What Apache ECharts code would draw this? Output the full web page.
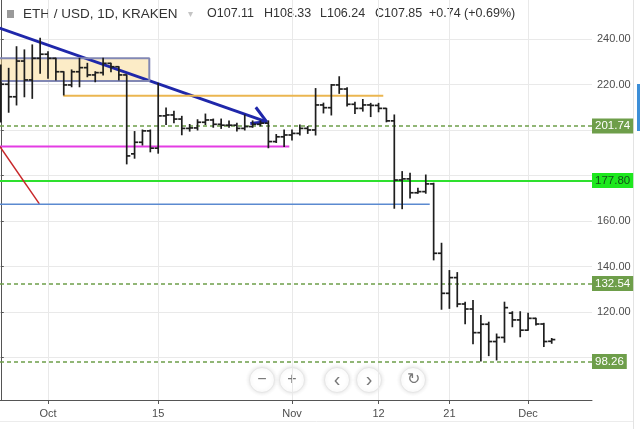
<!DOCTYPE html>
<html><head><meta charset="utf-8">
<script src="https://cdn.jsdelivr.net/npm/echarts@6/dist/echarts.min.js"></script>
<style>html,body{margin:0;padding:0;background:#fff}#c{width:640px;height:429px}</style>
</head><body><div id="c"></div>
<script>
// ---- data (ETH/USD daily, Kraken) ----
const dates = ['2018-09-25','2018-09-26','2018-09-27','2018-09-28','2018-09-29','2018-09-30',
'2018-10-01','2018-10-02','2018-10-03','2018-10-04','2018-10-05','2018-10-06','2018-10-07','2018-10-08','2018-10-09','2018-10-10',
'2018-10-11','2018-10-12','2018-10-13','2018-10-14','2018-10-15','2018-10-16','2018-10-17','2018-10-18','2018-10-19','2018-10-20',
'2018-10-21','2018-10-22','2018-10-23','2018-10-24','2018-10-25','2018-10-26','2018-10-27','2018-10-28','2018-10-29','2018-10-30','2018-10-31',
'2018-11-01','2018-11-02','2018-11-03','2018-11-04','2018-11-05','2018-11-06','2018-11-07','2018-11-08','2018-11-09','2018-11-10',
'2018-11-11','2018-11-12','2018-11-13','2018-11-14','2018-11-15','2018-11-16','2018-11-17','2018-11-18','2018-11-19','2018-11-20',
'2018-11-21','2018-11-22','2018-11-23','2018-11-24','2018-11-25','2018-11-26','2018-11-27','2018-11-28','2018-11-29','2018-11-30',
'2018-12-01','2018-12-02','2018-12-03','2018-12-04'];
const opens = [226.0,220.1,214.6,230.3,222.0,231.5,
233.3,231.5,225.6,219.8,225.6,227.4,224.2,225.2,229.3,227.8,
224.2,189.5,194.6,199.6,192.0,206.2,206.6,204.8,200.7,200.9,
203.4,204.4,202.5,202.1,202.1,200.7,201.5,202.5,203.0,194.9,197.0,
197.8,198.5,200.7,200.0,211.0,209.8,219.8,218.0,211.3,209.5,
211.0,210.8,209.5,204.0,178.0,178.5,172.4,172.9,176.3,145.8,
128.2,135.1,123.5,121.3,110.9,114.6,107.0,108.8,119.5,116.5,
112.0,117.2,114.7,107.11];
const highs = [228.6,227.1,236.6,235.2,237.4,240.3,
234.4,231.5,225.6,226.4,231.5,229.3,225.6,231.5,229.3,227.8,
224.2,199.3,200.0,200.0,220.5,209.7,208.2,206.0,202.4,204.5,
207.0,204.8,204.8,204.0,203.0,206.6,204.0,204.0,204.0,198.0,200.0,
200.0,202.2,201.5,218.2,211.8,220.0,223.4,218.6,212.2,213.4,
211.7,211.7,209.5,206.6,181.7,181.0,174.4,180.2,176.6,150.2,
138.2,137.3,124.3,125.0,118.4,115.5,110.3,124.3,120.1,120.1,
119.4,117.2,115.0,108.33];
const lows = [203.5,207.8,211.0,214.6,213.9,224.9,
222.7,222.0,215.4,219.0,219.0,223.4,221.2,224.2,225.6,222.0,
185.1,187.6,193.4,190.4,189.8,202.4,203.2,197.9,199.5,200.0,
202.4,201.2,200.7,201.2,199.5,200.0,201.2,201.8,192.2,194.5,192.7,
195.6,197.8,198.5,197.8,207.5,206.6,216.1,210.5,207.2,208.3,
205.9,208.0,203.6,165.6,165.4,170.1,172.2,172.2,142.9,121.2,
121.6,122.3,114.8,106.0,98.4,100.8,98.9,106.7,113.5,109.1,
112.0,114.3,104.8,106.24];
const closes = [220.1,214.6,230.3,222.0,231.5,233.3,
231.5,225.6,219.8,225.6,227.4,224.2,225.2,229.3,227.8,224.2,
188.6,194.6,199.6,192.0,206.2,206.6,204.8,200.7,200.9,203.4,
204.4,202.5,202.1,202.1,200.7,201.5,202.5,203.0,194.9,197.0,197.8,
198.5,200.7,200.0,211.0,209.8,219.8,218.0,211.3,209.5,211.0,
210.8,209.5,204.0,178.0,178.5,172.4,172.9,176.3,145.8,128.2,
135.1,123.5,121.3,110.9,114.6,107.0,108.8,121.9,116.5,112.0,
117.2,114.7,107.0,107.85];

const xTickDates = ['2018-10-01','2018-10-15','2018-11-01','2018-11-12','2018-11-21','2018-12-01'];
const xTickLabels = ['Oct','15','Nov','12','21','Dec'];
const yGridTicks = [100,120,140,160,180,200,220,240];
const yLabelTicks = [120,140,160,220,240];
const dashedLevels = [201.74, 132.54, 98.26];
const greenLevel = 177.80;
const lastPrice = 107.85;

// drawings: [day offset from first date, price]
const blueTrend = [[-1, 245.8],[33.79, 203.6]];
const blueArrowHead = [[32.4, 210.0],[33.79, 203.6],[31.7, 202.8]];
const boxRange = [[-0.1, 231.5],[18.87, 221.5]];
const boxEdges = [[-3, 231.5],[18.87, 231.5],[18.87, 221.5],[-3, 221.5]];
const orangeLine = [[7.94, 215.0],[48.6, 215.0]];
const magentaLine = [[-1, 192.7],[36.66, 192.7]];
const redLine = [[-0.1, 192.7],[4.9, 167.5]];
const steelLine = [[-1, 167.4],[54.5, 167.4]];

const headerTitle = 'ETH / USD, 1D, KRAKEN';
const headerValues = ['O107.11','H108.33','L106.24','C107.85','+0.74 (+0.69%)'];

// ---- build ----
const DAY = 86400000;
const t0 = Date.parse(dates[0]);
const dayIdx = d => Math.round((Date.parse(d) - t0) / DAY);
const ohlc = dates.map((d, i) => [dayIdx(d), opens[i], highs[i], lows[i], closes[i]]);
const xTickVals = xTickDates.map(dayIdx);
const FONT = '"Liberation Sans", Arial, sans-serif';

function lineSeries(data, color, width, z, extra) {
  return Object.assign({
    type: 'line', data: data, symbol: 'none', silent: true, z: z, clip: true,
    lineStyle: { color: color, width: width }, animation: false
  }, extra || {});
}

const levelMarks = dashedLevels.map(v => ({
  yAxis: v,
  lineStyle: { color: '#6e9e4a', width: 1.5, type: [4, 3] },
  label: { backgroundColor: '#6e9e4a', color: '#fff' }
}));
levelMarks.push({
  yAxis: greenLevel,
  lineStyle: { color: '#2ee02e', width: 2, type: 'solid' },
  label: { backgroundColor: '#1ee81e', color: '#14501a' }
});
levelMarks.push({
  yAxis: lastPrice,
  lineStyle: { color: '#000', width: 0, opacity: 0 },
  label: { backgroundColor: '#000', color: '#fff' }
});

const chart = echarts.init(document.getElementById('c'), null, { renderer: 'canvas' });
chart.setOption({
  animation: false,
  backgroundColor: '#fff',
  grid: { left: 0, right: 48, top: 0, bottom: 29, containLabel: false },
  xAxis: {
    type: 'value', min: -0.1, max: 75.12,
    axisLine: { show: true, lineStyle: { color: '#555', width: 1 } },
    axisTick: { show: true, length: 4, lineStyle: { color: '#555' }, customValues: xTickVals },
    axisLabel: {
      customValues: xTickVals, color: '#4d4d4d', fontSize: 11, fontFamily: FONT, margin: 8,
      formatter: v => { const k = xTickVals.indexOf(Math.round(v)); return k >= 0 ? xTickLabels[k] : ''; }
    },
    splitLine: { show: true, lineStyle: { color: '#e9e9e9', width: 1 } }
  },
  yAxis: {
    type: 'value', position: 'right', min: 81.3, max: 257.14, scale: true,
    axisLine: { show: true, lineStyle: { color: '#555', width: 1 } },
    axisTick: { show: true, length: 3, lineStyle: { color: '#555' }, customValues: yGridTicks },
    axisLabel: {
      customValues: yLabelTicks, color: '#4d4d4d', fontSize: 11, fontFamily: FONT, margin: 5,
      formatter: v => v.toFixed(2)
    },
    splitLine: { show: true, lineStyle: { color: '#e9e9e9', width: 1 } }
  },
  series: [
    lineSeries(blueTrend, '#1f27aa', 3, 3),
    lineSeries(blueArrowHead, '#1f27aa', 3, 3),
    lineSeries(boxEdges, '#8288b4', 2, 4, {
      markArea: {
        silent: true,
        itemStyle: { color: 'rgba(248,212,130,0.45)', borderWidth: 0 },
        data: [[{ coord: boxRange[0] }, { coord: boxRange[1] }]]
      }
    }),
    lineSeries(orangeLine, '#ebb650', 2, 5),
    lineSeries(magentaLine, '#e43ce4', 2, 5),
    lineSeries(redLine, '#c8282a', 1.5, 5),
    lineSeries(steelLine, '#5b8ad0', 1.5, 5),
    {
      type: 'custom', z: 10, clip: true, silent: true,
      data: ohlc,
      encode: { x: 0, y: [1, 2, 3, 4] },
      renderItem: function (params, api) {
        const x = api.value(0);
        const o = api.coord([x, api.value(1)]);
        const h = api.coord([x, api.value(2)]);
        const l = api.coord([x, api.value(3)]);
        const c = api.coord([x, api.value(4)]);
        const st = { stroke: '#1e1e1e', lineWidth: 1.7 };
        return {
          type: 'group', children: [
            { type: 'line', shape: { x1: h[0], y1: h[1] - 0.5, x2: l[0], y2: l[1] + 0.5 }, style: st },
            { type: 'line', shape: { x1: o[0] - 3.6, y1: o[1], x2: o[0], y2: o[1] }, style: st },
            { type: 'line', shape: { x1: c[0], y1: c[1], x2: c[0] + 3.6, y2: c[1] }, style: st }
          ]
        };
      },
      markLine: {
        silent: true, symbol: ['none', 'none'], animation: false,
        label: {
          show: true, position: 'end', distance: 0, fontSize: 11.5, fontFamily: FONT,
          padding: [2, 3, 1, 3], formatter: p => Number(p.value).toFixed(2)
        },
        data: levelMarks
      }
    }
  ],
  graphic: [
    { type: 'rect', shape: { x: 7, y: 10, width: 7, height: 8 }, style: { fill: '#9a9a9a' } },
    { type: 'text', x: 23, y: 14, style: { text: headerTitle, fill: '#333', font: '13.5px ' + FONT, textVerticalAlign: 'middle' } },
    { type: 'text', x: 188, y: 14, style: { text: '▾', fill: '#c4c4c4', font: '10px ' + FONT, textVerticalAlign: 'middle' } },
    { type: 'text', x: 207, y: 14, style: { text: headerValues[0], fill: '#333', font: '12.5px ' + FONT, textVerticalAlign: 'middle' } },
    { type: 'text', x: 264, y: 14, style: { text: headerValues[1], fill: '#333', font: '12.5px ' + FONT, textVerticalAlign: 'middle' } },
    { type: 'text', x: 320, y: 14, style: { text: headerValues[2], fill: '#333', font: '12.5px ' + FONT, textVerticalAlign: 'middle' } },
    { type: 'text', x: 375, y: 14, style: { text: headerValues[3], fill: '#333', font: '12.5px ' + FONT, textVerticalAlign: 'middle' } },
    { type: 'text', x: 429, y: 14, style: { text: headerValues[4], fill: '#333', font: '12.5px ' + FONT, textVerticalAlign: 'middle' } },
    // navigation buttons
    ...[[262, '−'], [292, '+'], [337, '‹'], [369, '›'], [413, '↻']].map(b => ({
      type: 'group', children: [
        { type: 'circle', shape: { cx: b[0], cy: 380, r: 12.5 }, style: { fill: '#fff', stroke: '#e6e6e6', lineWidth: 1, shadowBlur: 4, shadowColor: 'rgba(0,0,0,0.12)' } },
        { type: 'text', x: b[0], y: 380, style: { text: b[1], fill: '#777', font: (b[1] === '‹' || b[1] === '›' ? '20px ' : '16px ') + FONT, textAlign: 'center', textVerticalAlign: 'middle' } }
      ]
    })),
    // frame bits
    { type: 'line', shape: { x1: 0, y1: 421.5, x2: 633, y2: 421.5 }, style: { stroke: '#ececec', lineWidth: 1 } },
    { type: 'line', shape: { x1: 633.5, y1: 0, x2: 633.5, y2: 429 }, style: { stroke: '#e3e3e3', lineWidth: 1 } },
    { type: 'rect', shape: { x: 637, y: 84, width: 3, height: 47 }, style: { fill: '#3d8fd8' } }
  ]
});
</script></body></html>
